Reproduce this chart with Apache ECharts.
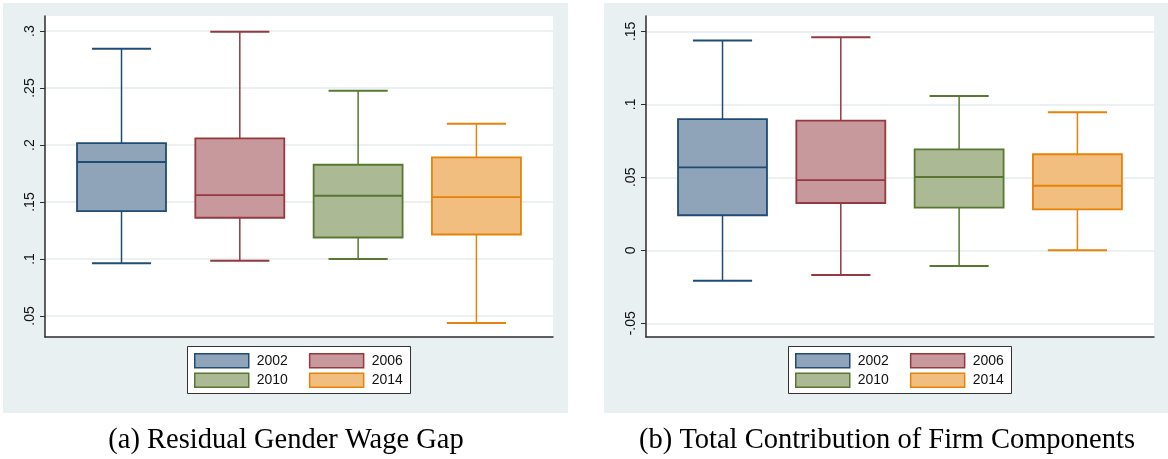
<!DOCTYPE html>
<html>
<head>
<meta charset="utf-8">
<style>
  html, body { margin: 0; padding: 0; background: #fff; }
  #chart { width: 1168px; height: 459px; }
</style>
<script src="https://cdn.jsdelivr.net/npm/echarts@6/dist/echarts.min.js"></script>
</head>
<body>
<div id="chart"></div>
<script>
const years = ['2002', '2006', '2010', '2014']

// (a) residual gender wage gap: whisker low, q1, median, q3, whisker high
const gapLow = [0.0963, 0.0985, 0.1, 0.0438]
const gapQ1 = [0.1421, 0.1362, 0.1189, 0.1215]
const gapMed = [0.1851, 0.1561, 0.1555, 0.1543]
const gapQ3 = [0.2016, 0.2059, 0.1827, 0.1891]
const gapHigh = [0.2845, 0.2994, 0.2476, 0.2187]

// (b) total contribution of firm components
const firmLow = [-0.0208, -0.0169, -0.0108, 0.0]
const firmQ1 = [0.024, 0.0324, 0.0292, 0.028]
const firmMed = [0.0568, 0.048, 0.0502, 0.0442]
const firmQ3 = [0.0899, 0.0888, 0.0692, 0.0658]
const firmHigh = [0.1438, 0.1459, 0.1057, 0.0945]

const gapTicks = [0.05, 0.1, 0.15, 0.2, 0.25, 0.3]
const gapTickLabels = ['.05', '.1', '.15', '.2', '.25', '.3']
const firmTicks = [-0.05, 0, 0.05, 0.1, 0.15]
const firmTickLabels = ['-.05', '0', '.05', '.1', '.15']

const captions = ['(a) Residual Gender Wage Gap', '(b) Total Contribution of Firm Components']

const fills = ['#8fa4b9', '#c8999c', '#abb994', '#f1be7f']
const strokes = ['#1f4b74', '#93393f', '#587831', '#e5820a']

const boxWidth = 0.752
const capWidth = 0.5

const chart = echarts.init(document.getElementById('chart'))

function makeRender(stroke) {
  return function (params, api) {
    const x = api.value(0)
    const pLow = api.coord([x, api.value(1)])
    const pQ1 = api.coord([x, api.value(2)])
    const pMed = api.coord([x, api.value(3)])
    const pQ3 = api.coord([x, api.value(4)])
    const pHigh = api.coord([x, api.value(5)])
    const half = api.size([boxWidth, 0])[0] / 2
    const cap = api.size([capWidth, 0])[0] / 2
    const cx = pMed[0]
    const line = (x1, y1, x2, y2, w) => ({
      type: 'line',
      shape: { x1, y1, x2, y2 },
      style: { stroke, lineWidth: w || 1.5 }
    })
    return {
      type: 'group',
      children: [
        line(cx, pQ3[1], cx, pHigh[1]),
        line(cx, pQ1[1], cx, pLow[1]),
        line(cx - cap, pHigh[1], cx + cap, pHigh[1], 2),
        line(cx - cap, pLow[1], cx + cap, pLow[1], 2),
        {
          type: 'rect',
          shape: { x: cx - half, y: pQ3[1], width: half * 2, height: pQ1[1] - pQ3[1] },
          style: { fill: api.visual('color'), stroke, lineWidth: 1.8 }
        },
        line(cx - half, pMed[1], cx + half, pMed[1], 1.8)
      ]
    }
  }
}

function boxSeries(panel, low, q1, med, q3, high) {
  return years.map((name, i) => ({
    type: 'custom',
    name,
    xAxisIndex: panel,
    yAxisIndex: panel,
    clip: false,
    itemStyle: { color: fills[i], borderColor: strokes[i] },
    renderItem: makeRender(strokes[i]),
    encode: { x: 0, y: [1, 2, 3, 4, 5] },
    data: [[i, low[i], q1[i], med[i], q3[i], high[i]]]
  }))
}

function yAxis(panel, min, max, ticks, labels) {
  return {
    type: 'value',
    gridIndex: panel,
    min,
    max,
    axisLine: { show: true, onZero: false, lineStyle: { color: '#2b2b2b', width: 1.5 } },
    axisTick: { show: true, length: 5, customValues: ticks, lineStyle: { color: '#2b2b2b', width: 1 } },
    axisLabel: {
      customValues: ticks,
      rotate: 90,
      margin: 8,
      fontFamily: 'Liberation Sans',
      fontSize: 14,
      color: '#111',
      formatter: v => labels[ticks.findIndex(t => Math.abs(t - v) < 1e-9)]
    },
    splitLine: { show: true, lineStyle: { color: '#e4ecef', width: 1.5 } }
  }
}

function xAxis(panel) {
  return {
    type: 'value',
    gridIndex: panel,
    min: -0.6467,
    max: 3.6473,
    axisLine: { show: true, onZero: false, lineStyle: { color: '#2b2b2b', width: 1.5 } },
    axisTick: { show: false },
    axisLabel: { show: false },
    splitLine: { show: false }
  }
}

function legendRow(left, top, names) {
  return {
    left,
    top,
    orient: 'horizontal',
    padding: 0,
    itemGap: 21,
    itemWidth: 54,
    itemHeight: 14,
    selectedMode: false,
    data: names.map(n => {
      const i = years.indexOf(n)
      return { name: n, icon: 'rect', itemStyle: { color: fills[i], borderColor: strokes[i], borderWidth: 1.5 } }
    }),
    textStyle: { fontFamily: 'Liberation Sans', fontSize: 14, color: '#111', padding: [0, 0, 0, 3], lineHeight: 14 }
  }
}

const panelLeft = [3, 604]
const plotLeft = [45, 646]
const legendLeft = [187.5, 788.5]
const captionX = [286, 887]

const graphics = []
for (let p = 0; p < 2; p++) {
  graphics.push({
    type: 'rect', z: -100, silent: true,
    shape: { x: panelLeft[p], y: 3, width: 565, height: 410 },
    style: { fill: '#e9f0f2' }
  })
  graphics.push({
    type: 'rect', z: 1, silent: true,
    shape: { x: legendLeft[p], y: 346.5, width: 223, height: 47 },
    style: { fill: '#fff', stroke: '#333', lineWidth: 1 }
  })
  graphics.push({
    type: 'text', z: 1, silent: true,
    x: captionX[p], y: 441,
    style: {
      text: captions[p],
      font: '28.5px "Liberation Serif"',
      fill: '#000',
      textAlign: 'center',
      textVerticalAlign: 'middle'
    }
  })
}

chart.setOption({
  animation: false,
  graphic: graphics,
  grid: plotLeft.map(l => ({
    left: l, top: 16, width: 508, height: 321,
    show: true, backgroundColor: '#fff', borderWidth: 0
  })),
  xAxis: [xAxis(0), xAxis(1)],
  yAxis: [
    yAxis(0, 0.0316, 0.3132, gapTicks, gapTickLabels),
    yAxis(1, -0.0594, 0.1605, firmTicks, firmTickLabels)
  ],
  legend: [
    legendRow(194, 353, ['2002', '2006']),
    legendRow(194, 372.5, ['2010', '2014']),
    legendRow(795, 353, ['2002', '2006']),
    legendRow(795, 372.5, ['2010', '2014'])
  ],
  series: [
    ...boxSeries(0, gapLow, gapQ1, gapMed, gapQ3, gapHigh),
    ...boxSeries(1, firmLow, firmQ1, firmMed, firmQ3, firmHigh)
  ]
})
</script>
</body>
</html>
